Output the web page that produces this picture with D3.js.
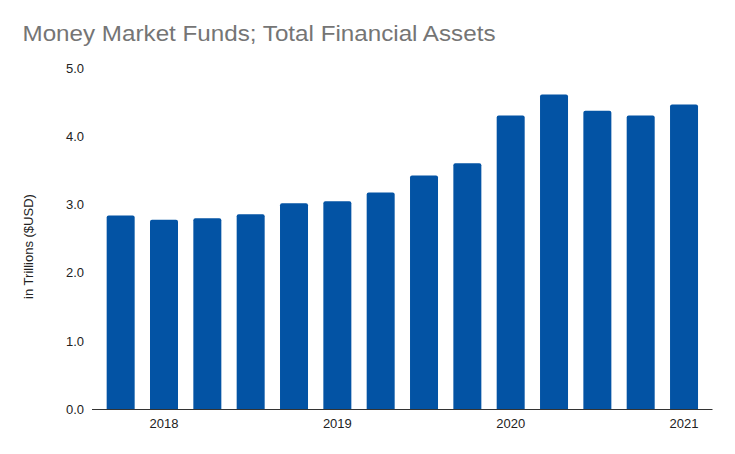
<!DOCTYPE html>
<html><head><meta charset="utf-8">
<script src="https://cdn.jsdelivr.net/npm/d3@7"></script>
<style>body{margin:0;background:#fff}svg{display:block;font-family:"Liberation Sans",Arial,sans-serif}</style>
</head><body>
<svg id="c" width="735" height="454"></svg>
<script>
const quarters = ["2017Q4","2018Q1","2018Q2","2018Q3","2018Q4","2019Q1","2019Q2","2019Q3","2019Q4","2020Q1","2020Q2","2020Q3","2020Q4","2021Q1"];
const values = [2.84,2.78,2.80,2.86,3.02,3.05,3.18,3.43,3.61,4.31,4.62,4.38,4.31,4.47];
const yTicks = [0,1,2,3,4,5];
const xTickQuarters = ["2018Q1","2019Q1","2020Q1","2021Q1"];
const xTickLabels = ["2018","2019","2020","2021"];

const FONT = "Liberation Sans, Arial, sans-serif";
const svg = d3.select("#c");
const x = d3.scaleBand().domain(quarters).range([99, 705.7]).paddingInner(0.354).paddingOuter(0.177);
const y = d3.scaleLinear().domain([0,5]).range([409, 68.5]);

svg.append("text").attr("x",22.5).attr("y",41).attr("fill","#757575")
  .style("font-size","22.5px").attr("textLength",473).attr("lengthAdjust","spacingAndGlyphs")
  .text("Money Market Funds; Total Financial Assets");

const yAxis = svg.append("g").attr("transform","translate(84,0)")
  .call(d3.axisLeft(y).tickValues(yTicks).tickFormat(d3.format(".1f")).tickSize(0).tickPadding(0));
yAxis.select(".domain").remove();
yAxis.selectAll("text").attr("fill","#222").style("font-size","13px").style("font-family",FONT);

svg.append("text").attr("transform","translate(33,246.5) rotate(-90)").attr("text-anchor","middle")
  .attr("fill","#222").style("font-size","13px").text("in Trillions ($USD)");

const r = 2;
svg.append("g").selectAll("path").data(values).join("path")
  .attr("fill","#0353a4")
  .attr("d",(d,i)=>{
    const x0 = x(quarters[i]), w = x.bandwidth(), y0 = y(d), yb = y(0);
    return `M${x0},${yb}V${y0+r}Q${x0},${y0} ${x0+r},${y0}H${x0+w-r}Q${x0+w},${y0} ${x0+w},${y0+r}V${yb}Z`;
  });

const xAxis = svg.append("g").attr("transform","translate(0,409)")
  .call(d3.axisBottom(x).tickValues(xTickQuarters).tickFormat((d,i)=>xTickLabels[i]).tickSize(0).tickPadding(9.5));
xAxis.select(".domain").remove();
xAxis.selectAll("text").attr("fill","#222").style("font-size","13px").style("font-family",FONT);

svg.append("line").attr("x1",92).attr("x2",712.5).attr("y1",409.5).attr("y2",409.5)
  .attr("stroke","#333").attr("stroke-width",1);
</script>
</body></html>
